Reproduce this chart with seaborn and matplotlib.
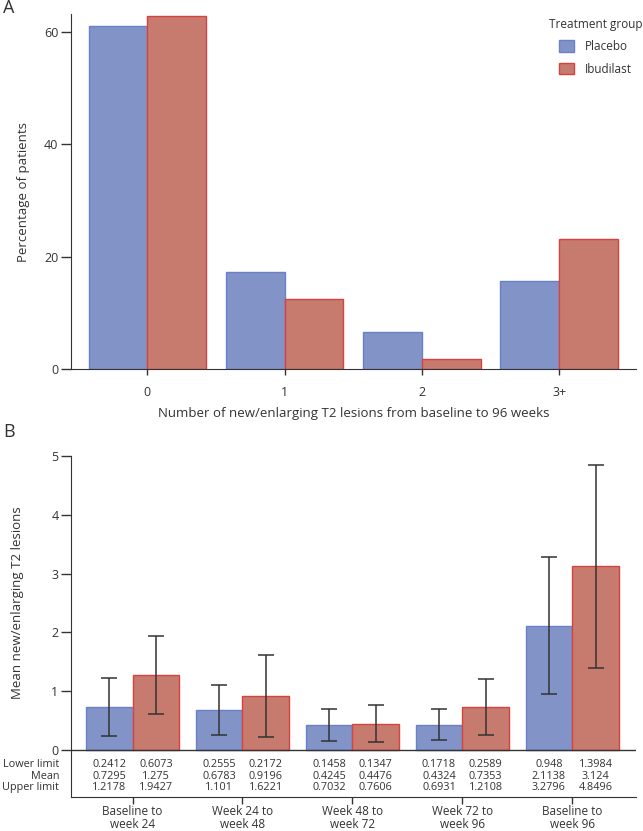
import numpy as np
import pandas as pd
import matplotlib
matplotlib.use("Agg")
import matplotlib.pyplot as plt
import matplotlib.transforms as mtransforms
import seaborn as sns

# panel A data
lesion_cats = ["0", "1", "2", "3+"]
placebo_pct = [61.0, 17.2, 6.6, 15.6]
ibudilast_pct = [62.8, 12.4, 1.7, 23.1]

# panel B data
periods = ["Baseline to\nweek 24", "Week 24 to\nweek 48", "Week 48 to\nweek 72",
           "Week 72 to\nweek 96", "Baseline to\nweek 96"]
placebo_lower = ["0.2412", "0.2555", "0.1458", "0.1718", "0.948"]
placebo_mean = ["0.7295", "0.6783", "0.4245", "0.4324", "2.1138"]
placebo_upper = ["1.2178", "1.101", "0.7032", "0.6931", "3.2796"]
ibud_lower = ["0.6073", "0.2172", "0.1347", "0.2589", "1.3984"]
ibud_mean = ["1.275", "0.9196", "0.4476", "0.7353", "3.124"]
ibud_upper = ["1.9427", "1.6221", "0.7606", "1.2108", "4.8496"]

groups = ["Placebo", "Ibudilast"]
fill = {"Placebo": "#8193c7", "Ibudilast": "#c77b6e"}
edge = {"Placebo": "#6a80c9", "Ibudilast": "#d8413f"}
dark = "#333333"

sns.set_style("ticks")
plt.rcParams["font.family"] = ["Open Sans", "DejaVu Sans"]
plt.rcParams["axes.edgecolor"] = dark
plt.rcParams["xtick.color"] = dark
plt.rcParams["ytick.color"] = dark
plt.rcParams["text.color"] = dark
plt.rcParams["axes.labelcolor"] = dark

fig = plt.figure(figsize=(6.43, 8.31), dpi=100)
W, H = 643, 831
ax1 = fig.add_axes([71 / W, 1 - 369 / H, 565 / W, 355 / H])
ax2 = fig.add_axes([71 / W, 1 - 797 / H, 565 / W, 341 / H])

# ---- Panel A ----
dfa = pd.DataFrame({
    "cat": lesion_cats * 2,
    "group": ["Placebo"] * 4 + ["Ibudilast"] * 4,
    "value": placebo_pct + ibudilast_pct,
})
sns.barplot(data=dfa, x="cat", y="value", hue="group", hue_order=groups,
            palette=fill, width=0.855, saturation=1, ax=ax1, linewidth=1)
for cont, g in zip(ax1.containers, groups):
    for p in cont:
        p.set_edgecolor(edge[g])
ax1.set_xlim(-0.555, 3.56)
ax1.set_ylim(0, 63.2)
ax1.set_yticks([0, 20, 40, 60])
sns.despine(ax=ax1)
ax1.tick_params(axis="y", length=7, width=1, pad=2, labelsize=9)
ax1.tick_params(axis="x", length=4, width=1, pad=8, labelsize=9)
ax1.set_xlabel("Number of new/enlarging T2 lesions from baseline to 96 weeks",
               fontsize=9.5, labelpad=6)
ax1.set_ylabel("Percentage of patients", fontsize=9.5, labelpad=10)
leg = ax1.legend(title="Treatment group", frameon=False, loc="upper right",
                 bbox_to_anchor=(653 / W, 1 - 7 / H), bbox_transform=fig.transFigure,
                 fontsize=8.5, title_fontsize=8.5, handlelength=1.25, handleheight=1.15,
                 labelspacing=0.8, handletextpad=0.9)
for h, g in zip(leg.legend_handles, groups):
    h.set_edgecolor(edge[g])

# ---- Panel B ----
dfb = pd.DataFrame({
    "period": periods * 2,
    "group": ["Placebo"] * 5 + ["Ibudilast"] * 5,
    "mean": [float(v) for v in placebo_mean + ibud_mean],
    "lower": [float(v) for v in placebo_lower + ibud_lower],
    "upper": [float(v) for v in placebo_upper + ibud_upper],
})
sns.barplot(data=dfb, x="period", y="mean", hue="group", hue_order=groups,
            palette=fill, width=0.85, saturation=1, ax=ax2, linewidth=1,
            legend=False)
table = {"Placebo": (placebo_lower, placebo_mean, placebo_upper),
         "Ibudilast": (ibud_lower, ibud_mean, ibud_upper)}
row_y = [-0.245, -0.445, -0.645]
for cont, g in zip(ax2.containers, groups):
    sub = dfb[dfb["group"] == g]
    xs = [p.get_x() + p.get_width() / 2 for p in cont]
    for p in cont:
        p.set_edgecolor(edge[g])
    ax2.errorbar(xs, sub["mean"], yerr=[sub["mean"] - sub["lower"], sub["upper"] - sub["mean"]],
                 fmt="none", ecolor=dark, elinewidth=1.1, capsize=6, capthick=1.1, zorder=5)
    for row, yy in zip(table[g], row_y):
        for x, txt in zip(xs, row):
            ax2.text(x, yy, txt, ha="center", va="center", fontsize=7.8)

trans = mtransforms.blended_transform_factory(ax2.transAxes, ax2.transData)
for lab, yy in zip(["Lower limit", "Mean", "Upper limit"], row_y):
    ax2.text(-0.021, yy, lab, ha="right", va="center", fontsize=7.8, transform=trans)

ax2.axhline(0, color=dark, lw=1, zorder=6)
ax2.set_xlim(-0.56, 4.58)
ax2.set_ylim(-0.8, 5.0)
ax2.set_yticks([0, 1, 2, 3, 4, 5])
sns.despine(ax=ax2)
ax2.tick_params(axis="y", length=7, width=1, pad=2, labelsize=9)
ax2.tick_params(axis="x", length=5, width=1, pad=1, labelsize=8.5)
for t in ax2.get_xticklabels():
    t.set_linespacing(1.0)
ax2.set_xlabel("")
ax2.set_ylabel("Mean new/enlarging T2 lesions", fontsize=9.5, labelpad=10)
ax2.yaxis.set_label_coords(-0.083, (5.0 + 0.8 - 2.5) / 5.8)

fig.text(3 / W, 1 - 8 / H, "A", fontsize=13, ha="left", va="center")
fig.text(3 / W, 1 - 432 / H, "B", fontsize=13, ha="left", va="center")

fig.savefig("out.png", dpi=100)
